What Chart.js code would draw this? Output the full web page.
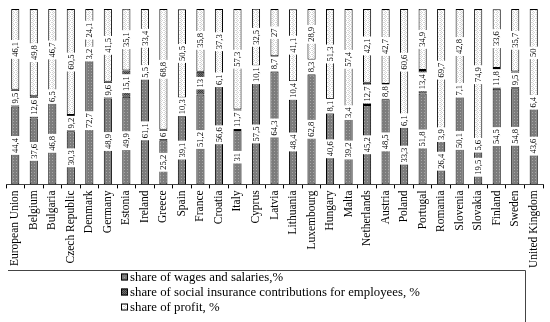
<!DOCTYPE html>
<html><head><meta charset="utf-8">
<script src="https://cdn.jsdelivr.net/npm/chart.js@4/dist/chart.umd.min.js"></script>
<style>html,body{margin:0;padding:0;background:#fff;overflow:hidden;} #wrap{width:550px;height:322px;position:relative;}</style>
</head><body><div id="wrap"><canvas id="c" width="550" height="322"></canvas></div>
<script>
const categories = ["European Union","Belgium","Bulgaria","Czech Republic","Denmark","Germany","Estonia","Ireland","Greece","Spain","France","Croatia","Italy","Cyprus","Latvia","Lithuania","Luxembourg","Hungary","Malta","Netherlands","Austria","Poland","Portugal","Romania","Slovenia","Slovakia","Finland","Sweden","United Kingdom"];
const wages  = [44.4,37.6,46.8,30.3,72.7,48.9,49.9,61.1,25.2,39.1,51.2,56.6,31,57.5,64.3,48.4,62.8,40.6,39.2,45.2,48.5,33.3,51.8,26.4,50.1,19.5,54.5,54.8,43.6];
const social = [9.5,12.6,6.5,9.2,3.2,9.6,15.1,5.5,6,10.3,13,6.1,11.7,10.1,8.7,10.4,8.3,8.1,3.4,12.7,8.8,6.1,13.4,3.9,7.1,5.6,11.8,9.5,6.4];
const profit = [46.1,49.8,46.7,60.5,24.1,41.5,35.1,33.4,68.8,50.5,35.8,37.3,57.3,32.5,27,41.1,28.9,51.3,57.4,42.1,42.7,60.6,34.9,69.7,42.8,74.9,33.6,35.7,50];
const seriesLabels = ["share of wages and salaries,%","share of social insurance contributions for employees, %","share of profit, %"];

function makePattern(kind){
  const c=document.createElement('canvas');
  const g=c.getContext('2d');
  if(kind===0){
    c.width=3;c.height=3;
    g.fillStyle='#7c7c7c';g.fillRect(0,0,3,3);
    g.fillStyle='#a6a6a6';g.fillRect(1,1,1,1);
  } else if(kind===1){
    c.width=2;c.height=2;
    g.fillStyle='#3c3c3c';g.fillRect(0,0,2,2);
    g.fillStyle='#707070';g.fillRect(1,0,1,1);g.fillRect(0,1,1,1);
  } else {
    c.width=4;c.height=4;
    g.fillStyle='#ffffff';g.fillRect(0,0,4,4);
    g.fillStyle='#d4d4d4';
    g.fillRect(0,0,1,1);g.fillRect(2,0,1,1);g.fillRect(1,1,1,1);g.fillRect(3,2,1,1);g.fillRect(0,2,1,1);g.fillRect(1,3,1,1);
  }
  return document.createElement('canvas').getContext('2d').createPattern(c,'repeat');
}
const fills=[makePattern(0),makePattern(1),makePattern(2)];
const seriesData=[wages,social,profit];

const labelPlugin={id:'vals',afterDatasetsDraw(chart){
  const ctx=chart.ctx;ctx.save();
  ctx.font='8.5px "Liberation Serif"';
  const n=chart.data.labels.length;
  for(let j=0;j<n;j++){
    let prevTop=Infinity;
    chart.data.datasets.forEach((ds,i)=>{
      const bar=chart.getDatasetMeta(i).data[j];
      const txt=String(ds.data[j]).replace('.',',');
      const p=bar.getProps(['x','y','base'],true);
      const w=ctx.measureText(txt).width;
      const h=w+4;
      let cy=(p.y+p.base)/2;
      if(cy+h/2>prevTop-2) cy=prevTop-2-h/2;
      prevTop=cy-h/2;
      ctx.save();ctx.translate(p.x,cy);ctx.rotate(-Math.PI/2);
      ctx.fillStyle='#fff';ctx.fillRect(-h/2,-5,h,10);
      ctx.fillStyle='#000';ctx.textAlign='center';ctx.textBaseline='middle';ctx.fillText(txt,0,0.5);
      ctx.restore();
    });
  }
  ctx.restore();
}};

const legendPlugin={id:'boxLegend',afterDraw(chart){
  const ctx=chart.ctx;const top=Math.round(chart.scales.x.bottom);
  ctx.save();
  ctx.strokeStyle='#444';ctx.lineWidth=1;
  ctx.beginPath();ctx.moveTo(8,top+0.5);ctx.lineTo(525.5,top+0.5);ctx.lineTo(525.5,chart.height);ctx.stroke();
  ctx.font='12.8px "Liberation Serif"';ctx.textBaseline='middle';ctx.textAlign='left';
  chart.data.datasets.forEach((ds,i)=>{
    const cy=top+7+i*15;
    ctx.fillStyle=ds.backgroundColor;ctx.fillRect(121,cy-3.5,7,7);
    ctx.strokeStyle='#000';ctx.strokeRect(121.5,cy-3,6,6);
    ctx.fillStyle='#000';ctx.fillText(ds.label,130,cy+0.5);
  });
  ctx.restore();
}};

new Chart(document.getElementById('c').getContext('2d'),{
  type:'bar',
  data:{labels:categories,datasets:seriesLabels.map((l,i)=>({label:l,data:seriesData[i],backgroundColor:fills[i],borderColor:'#000',borderWidth:1,borderSkipped:false}))},
  options:{
    responsive:false,animation:false,devicePixelRatio:1,
    layout:{padding:{left:6,right:7,top:9,bottom:52}},
    datasets:{bar:{barPercentage:0.44,categoryPercentage:1}},
    plugins:{legend:{display:false},tooltip:{enabled:false}},
    scales:{
      x:{stacked:true,offset:true,
        grid:{display:true,drawOnChartArea:false,offset:true,tickLength:4,color:'#000'},
        border:{color:'#444',width:1},
        ticks:{autoSkip:false,minRotation:90,maxRotation:90,font:{family:'Liberation Serif',size:11.5},color:'#000',padding:2}},
      y:{stacked:true,min:0,max:100,display:false}
    }
  },
  plugins:[labelPlugin,legendPlugin]
});
</script></body></html>
